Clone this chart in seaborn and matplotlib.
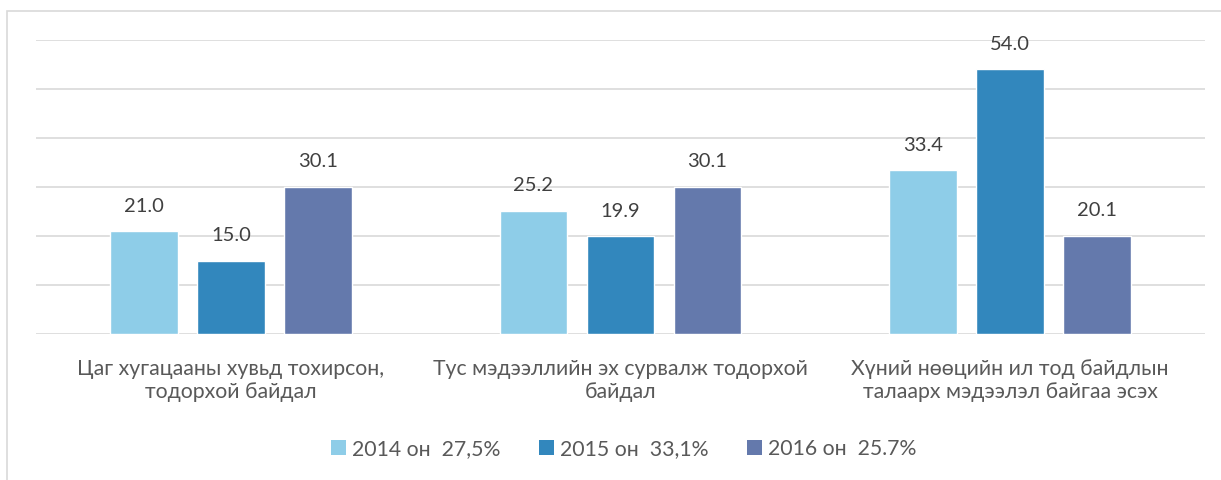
import matplotlib
matplotlib.use("Agg")
import matplotlib.pyplot as plt
import seaborn as sns
import pandas as pd
from matplotlib.patches import Patch, Rectangle

categories = ["Цаг хугацааны хувьд тохирсон,\nтодорхой байдал",
              "Тус мэдээллийн эх сурвалж тодорхой\nбайдал",
              "Хүний нөөцийн ил тод байдлын\nталаарх мэдээлэл байгаа эсэх"]
series = ["2014 он  27,5%", "2015 он  33,1%", "2016 он  25.7%"]
v2014 = [21.0, 25.2, 33.4]
v2015 = [15.0, 19.9, 54.0]
v2016 = [30.1, 30.1, 20.1]
colors = ["#8ECDE8", "#3287BD", "#6479AC"]

rows = []
for s, vals in zip(series, [v2014, v2015, v2016]):
    for c, v in zip(categories, vals):
        rows.append({"cat": c, "series": s, "value": v})
df = pd.DataFrame(rows)

sns.set_theme(style="white")
plt.rcParams['font.family'] = ['Lato', 'DejaVu Sans']
text_color = "#595959"

fig = plt.figure(figsize=(12.21, 4.8), dpi=100)
ax = fig.add_axes([36/1221, 1-334/480, (1205-36)/1221, (334-40)/480])

sns.barplot(data=df, x="cat", y="value", hue="series", palette=colors,
            width=0.67, gap=0.22, ax=ax, legend=False, saturation=1)

ax.set_ylim(0, 60)
ax.set_yticks(range(0, 61, 10))
ax.yaxis.grid(True, color="#D9D9D9", linewidth=1.2)
ax.set_axisbelow(True)
for sp in ax.spines.values():
    sp.set_visible(False)
ax.tick_params(axis='y', left=False, labelleft=False)
ax.tick_params(axis='x', bottom=False, pad=12, labelsize=15.3, labelcolor=text_color)
for lbl in ax.get_xticklabels():
    lbl.set_linespacing(1.2)
ax.set_xlabel("")
ax.set_ylabel("")

for cont in ax.containers:
    for bar in cont:
        h = bar.get_height()
        ax.annotate(f"{h:.1f}", (bar.get_x() + bar.get_width()/2, h),
                    xytext=(0, 18), textcoords="offset points",
                    ha="center", va="center", fontsize=14.5, color="#404040")

handles = [Patch(facecolor=c, edgecolor='none') for c in colors]
fig.legend(handles, series, loc="center", bbox_to_anchor=(624/1221, 1-449/480),
           ncol=3, frameon=False, fontsize=15.3, labelcolor=text_color,
           handlelength=0.7, handleheight=0.7, handletextpad=0.3,
           columnspacing=1.8)

fig.patches.append(Rectangle((7/1221, -0.1), 1.2, 1-11/480+0.1,
                             transform=fig.transFigure, fill=False,
                             edgecolor="#D9D9D9", linewidth=1.2))

fig.savefig("out.png", dpi=100)
